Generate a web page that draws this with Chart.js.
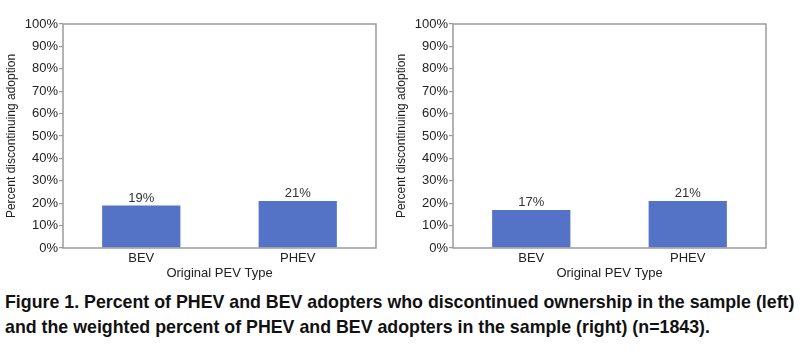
<!DOCTYPE html>
<html>
    <head>
        <title>PEV discontinuance</title>
        <script src="https://cdn.jsdelivr.net/npm/chart.js@4.4.0/dist/chart.umd.min.js"></script>
        <style>
            body { margin: 0; width: 800px; height: 355px; background: #fff; overflow: hidden; position: relative; }
            .box { position: absolute; top: 0; width: 390px; height: 285px; }
            #caption {
                position: absolute; left: 5px; top: 290px; width: 800px;
                font-family: "Liberation Sans", Arial, sans-serif;
                white-space: nowrap;
                font-weight: bold; font-size: 17.8px; line-height: 25px; color: #111;
            }
        </style>
    </head>
    <body>
        <div class="box" style="left:0px"><canvas id="leftChart" width="390" height="285"></canvas></div>
        <div class="box" style="left:390px"><canvas id="rightChart" width="390" height="285"></canvas></div>
        <div id="caption">Figure 1. Percent of PHEV and BEV adopters who discontinued ownership in the sample (left)<br>and the weighted percent of PHEV and BEV adopters in the sample (right) (n=1843).</div>

        <script>
            // data
            const categories = ["BEV", "PHEV"];
            const sampleValues = [19, 21];
            const weightedValues = [17, 21];
            const yTicks = [0, 10, 20, 30, 40, 50, 60, 70, 80, 90, 100];

            const barColor = "#5573c6";
            const frameColor = "#9a9a9a";
            const textFont = { family: "Liberation Sans", size: 13 };

            // writes the value above each bar and draws the grey frame
            const barLabels = {
                id: "barLabels",
                afterDatasetsDraw(chart) {
                    const ctx = chart.ctx;
                    const area = chart.chartArea;
                    ctx.save();
                    ctx.strokeStyle = frameColor;
                    ctx.lineWidth = 1.5;
                    ctx.strokeRect(area.left, area.top, area.right - area.left, area.bottom - area.top);
                    ctx.fillStyle = "#333";
                    ctx.font = "13px 'Liberation Sans', Arial, sans-serif";
                    ctx.textAlign = "center";
                    ctx.textBaseline = "bottom";
                    const meta = chart.getDatasetMeta(0);
                    meta.data.forEach(function (bar, i) {
                        ctx.fillText(chart.data.datasets[0].data[i] + "%", bar.x, bar.y - 1);
                    });
                    ctx.restore();
                }
            };

            function makeChart(canvasId, values) {
                const config = {
                    type: "bar",
                    data: {
                        labels: categories,
                        datasets: [{
                            data: values,
                            backgroundColor: barColor,
                            categoryPercentage: 1.0,
                            barPercentage: 0.5
                        }]
                    },
                    options: {
                        responsive: false,
                        animation: false,
                        layout: { padding: { top: 24, right: 14, left: 0, bottom: 0 } },
                        plugins: { legend: { display: false }, tooltip: { enabled: false } },
                        scales: {
                            x: {
                                grid: { display: false, drawTicks: false },
                                border: { display: false },
                                ticks: { color: "#222", font: textFont, padding: 3 },
                                title: { display: true, text: "Original PEV Type", color: "#222",
                                         font: textFont, padding: { top: 0 } },
                                afterFit: function (scale) { scale.height = 37; }
                            },
                            y: {
                                min: 0,
                                max: 100,
                                afterBuildTicks: function (scale) {
                                    scale.ticks = yTicks.map(function (v) { return { value: v }; });
                                },
                                grid: { display: true, drawOnChartArea: false, tickLength: 4, color: frameColor, lineWidth: 1.2 },
                                border: { display: false },
                                ticks: {
                                    color: "#222",
                                    font: textFont,
                                    padding: 1,
                                    callback: function (v) { return v + "%"; }
                                },
                                title: { display: true, text: "Percent discontinuing adoption", color: "#222",
                                         font: { family: "Liberation Sans", size: 12 }, padding: { bottom: 2 } },
                                afterFit: function (scale) { scale.width = 63; }
                            }
                        }
                    },
                    plugins: [barLabels]
                };
                return new Chart(document.getElementById(canvasId), config);
            }

            makeChart("leftChart", sampleValues);
            makeChart("rightChart", weightedValues);
        </script>
    </body>
</html>
